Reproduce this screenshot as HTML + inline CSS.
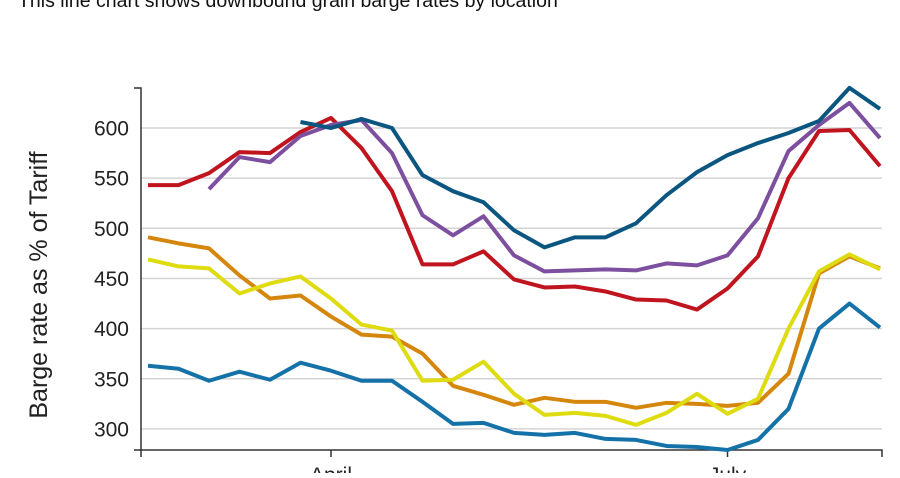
<!DOCTYPE html>
<html><head><meta charset="utf-8"><style>
body{margin:0;background:#fff;width:900px;height:473px;overflow:hidden;font-family:"Liberation Sans",sans-serif}
</style></head><body>
<svg width="900" height="473">
<text x="18" y="7" font-size="19.5" fill="#111">This line chart shows downbound grain barge rates by location</text>
<text transform="translate(47,285) rotate(-90)" text-anchor="middle" font-size="25" fill="#222">Barge rate as % of Tariff</text>
<g id="grid"></g><g id="axes"></g><g id="lines"></g>
</svg>
<script>
const yTicks=[300,350,400,450,500,550,600];
const xTickLabels=["April","July"];
const xTickIdx=[6,19];
const red=[543,543,555,576,575,596,610,580,537,464,464,477,449,441,442,437,429,428,419,440,472,550,597,598,562];
const purple=[null,null,539,571,566,592,603,608,575,513,493,512,473,457,458,459,458,465,463,473,510,577,603,625,590];
const navy=[null,null,null,null,null,606,600,609,600,553,537,526,498,481,491,491,505,533,556,573,585,595,607,640,619];
const orange=[491,485,480,453,430,433,412,394,392,375,343,334,324,331,327,327,321,326,325,323,326,355,455,472,460];
const yellow=[469,462,460,435,445,452,430,404,398,348,349,367,335,314,316,313,304,316,335,315,330,400,457,474,459];
const blue=[363,360,348,357,349,366,358,348,348,327,305,306,296,294,296,290,289,283,282,279,289,320,400,425,401];
const NS="http://www.w3.org/2000/svg";
const X=i=>148+i*30.5, Y=v=>128+(600-v)*1.003;
function mk(t,a,p){const e=document.createElementNS(NS,t);for(const k in a)e.setAttribute(k,a[k]);p.appendChild(e);return e;}
const grid=document.getElementById('grid'),axes=document.getElementById('axes'),lines=document.getElementById('lines');
yTicks.forEach(v=>{
 const l=mk('line',{x1:141,x2:882,y1:Y(v),y2:Y(v),stroke:'#d4d4d4','stroke-width':1.5},grid);
 
 
 const t=mk('text',{x:129,y:Y(v)+7.5,'text-anchor':'end','font-size':21,fill:'#222'},axes);
 t.textContent=v;
 
 
});
const ya=mk('path',{d:'M134,88H141V450H134',fill:'none',stroke:'#333','stroke-width':1.5},axes);


const xa=mk('path',{d:'M141,457V450H882V457',fill:'none',stroke:'#333','stroke-width':1.5},axes);


xTickLabels.forEach((s,k)=>{
 const x=X(xTickIdx[k]);
 mk('line',{x1:x,x2:x,y1:450,y2:457,stroke:'#333','stroke-width':1.5},axes);
 const t=mk('text',{x:x,y:482,'text-anchor':'middle','font-size':21,fill:'#222'},axes);
 t.textContent=s;
 
 
});
[[orange,'#d5870d','orange'],[yellow,'#dedc10','yellow'],[blue,'#1572a8','blue'],[red,'#c0141e','red'],[purple,'#7d4f9f','purple'],[navy,'#0b5680','navy']].forEach(([d,c,n])=>{
 let p='';d.forEach((v,i)=>{if(v==null)return;p+=(p?'L':'M')+X(i)+','+Y(v);});
 const e=mk('path',{d:p,fill:'none',stroke:c,'stroke-width':4,'stroke-linejoin':'round'},lines);
 
 
});
</script>
</body></html>
